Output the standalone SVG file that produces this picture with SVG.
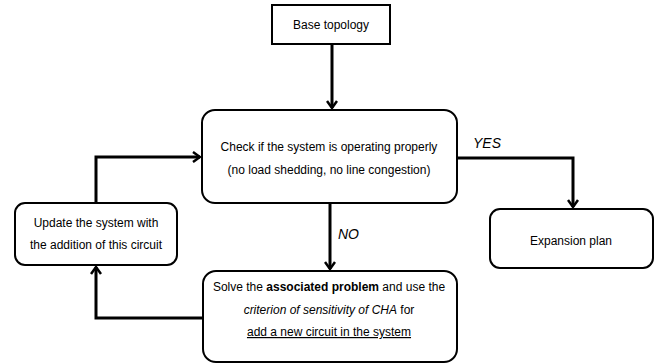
<svg xmlns="http://www.w3.org/2000/svg" width="662" height="364" viewBox="0 0 662 364">
<defs>
<marker id="arr" markerWidth="12" markerHeight="12" refX="10" refY="6" orient="auto" markerUnits="userSpaceOnUse">
<polyline points="3,1 10,6 3,11" fill="none" stroke="#000" stroke-width="2.5"/>
</marker>
<style>
.box{fill:#fff;stroke:#000;stroke-width:2}
.t{font-family:"Liberation Sans",Arial,sans-serif;font-size:12px;fill:#000;text-anchor:middle}
.c{fill:none;stroke:#000;stroke-width:3}
.lbl{font-family:"Liberation Sans",Arial,sans-serif;font-size:14px;font-style:italic;fill:#000}
</style>
</defs>
<rect width="662" height="364" fill="#fff"/>
<g id="connectors">
<line class="c" x1="332" y1="44" x2="332" y2="108" marker-end="url(#arr)"/>
<polyline class="c" points="457,158 573,158 573,207" marker-end="url(#arr)"/>
<line class="c" x1="330" y1="203" x2="330" y2="269" marker-end="url(#arr)"/>
<polyline class="c" points="203,318 96,318 96,267" marker-end="url(#arr)"/>
<polyline class="c" points="96,203 96,157 200,157" marker-end="url(#arr)"/>
<text class="lbl" x="473" y="148">YES</text>
<text class="lbl" x="338" y="239">NO</text>
</g>
<g id="base">
<rect class="box" x="272" y="5" width="118" height="39"/>
<text class="t" x="331" y="29">Base topology</text>
</g>
<g id="check">
<rect class="box" x="202" y="110" width="255" height="93" rx="13"/>
<text class="t" x="329" y="151">Check if the system is operating properly</text>
<text class="t" x="329" y="174">(no load  shedding, no line congestion)</text>
</g>
<g id="update">
<rect class="box" x="15" y="203" width="162" height="62" rx="10"/>
<text class="t" x="96" y="227">Update the system with</text>
<text class="t" x="96" y="249">the addition  of this circuit</text>
</g>
<g id="solve">
<rect class="box" x="203" y="271" width="254" height="91" rx="13"/>
<text class="t" x="329" y="291">Solve the <tspan font-weight="bold">associated problem</tspan> and use the</text>
<text class="t" x="329" y="314"><tspan font-style="italic">criterion of sensitivity of CHA</tspan> for</text>
<text class="t" x="329" y="336" text-decoration="underline">add a new circuit in the system</text>
</g>
<g id="expansion">
<rect class="box" x="490" y="209" width="163" height="59" rx="10"/>
<text class="t" x="571" y="245">Expansion plan</text>
</g>
</svg>
